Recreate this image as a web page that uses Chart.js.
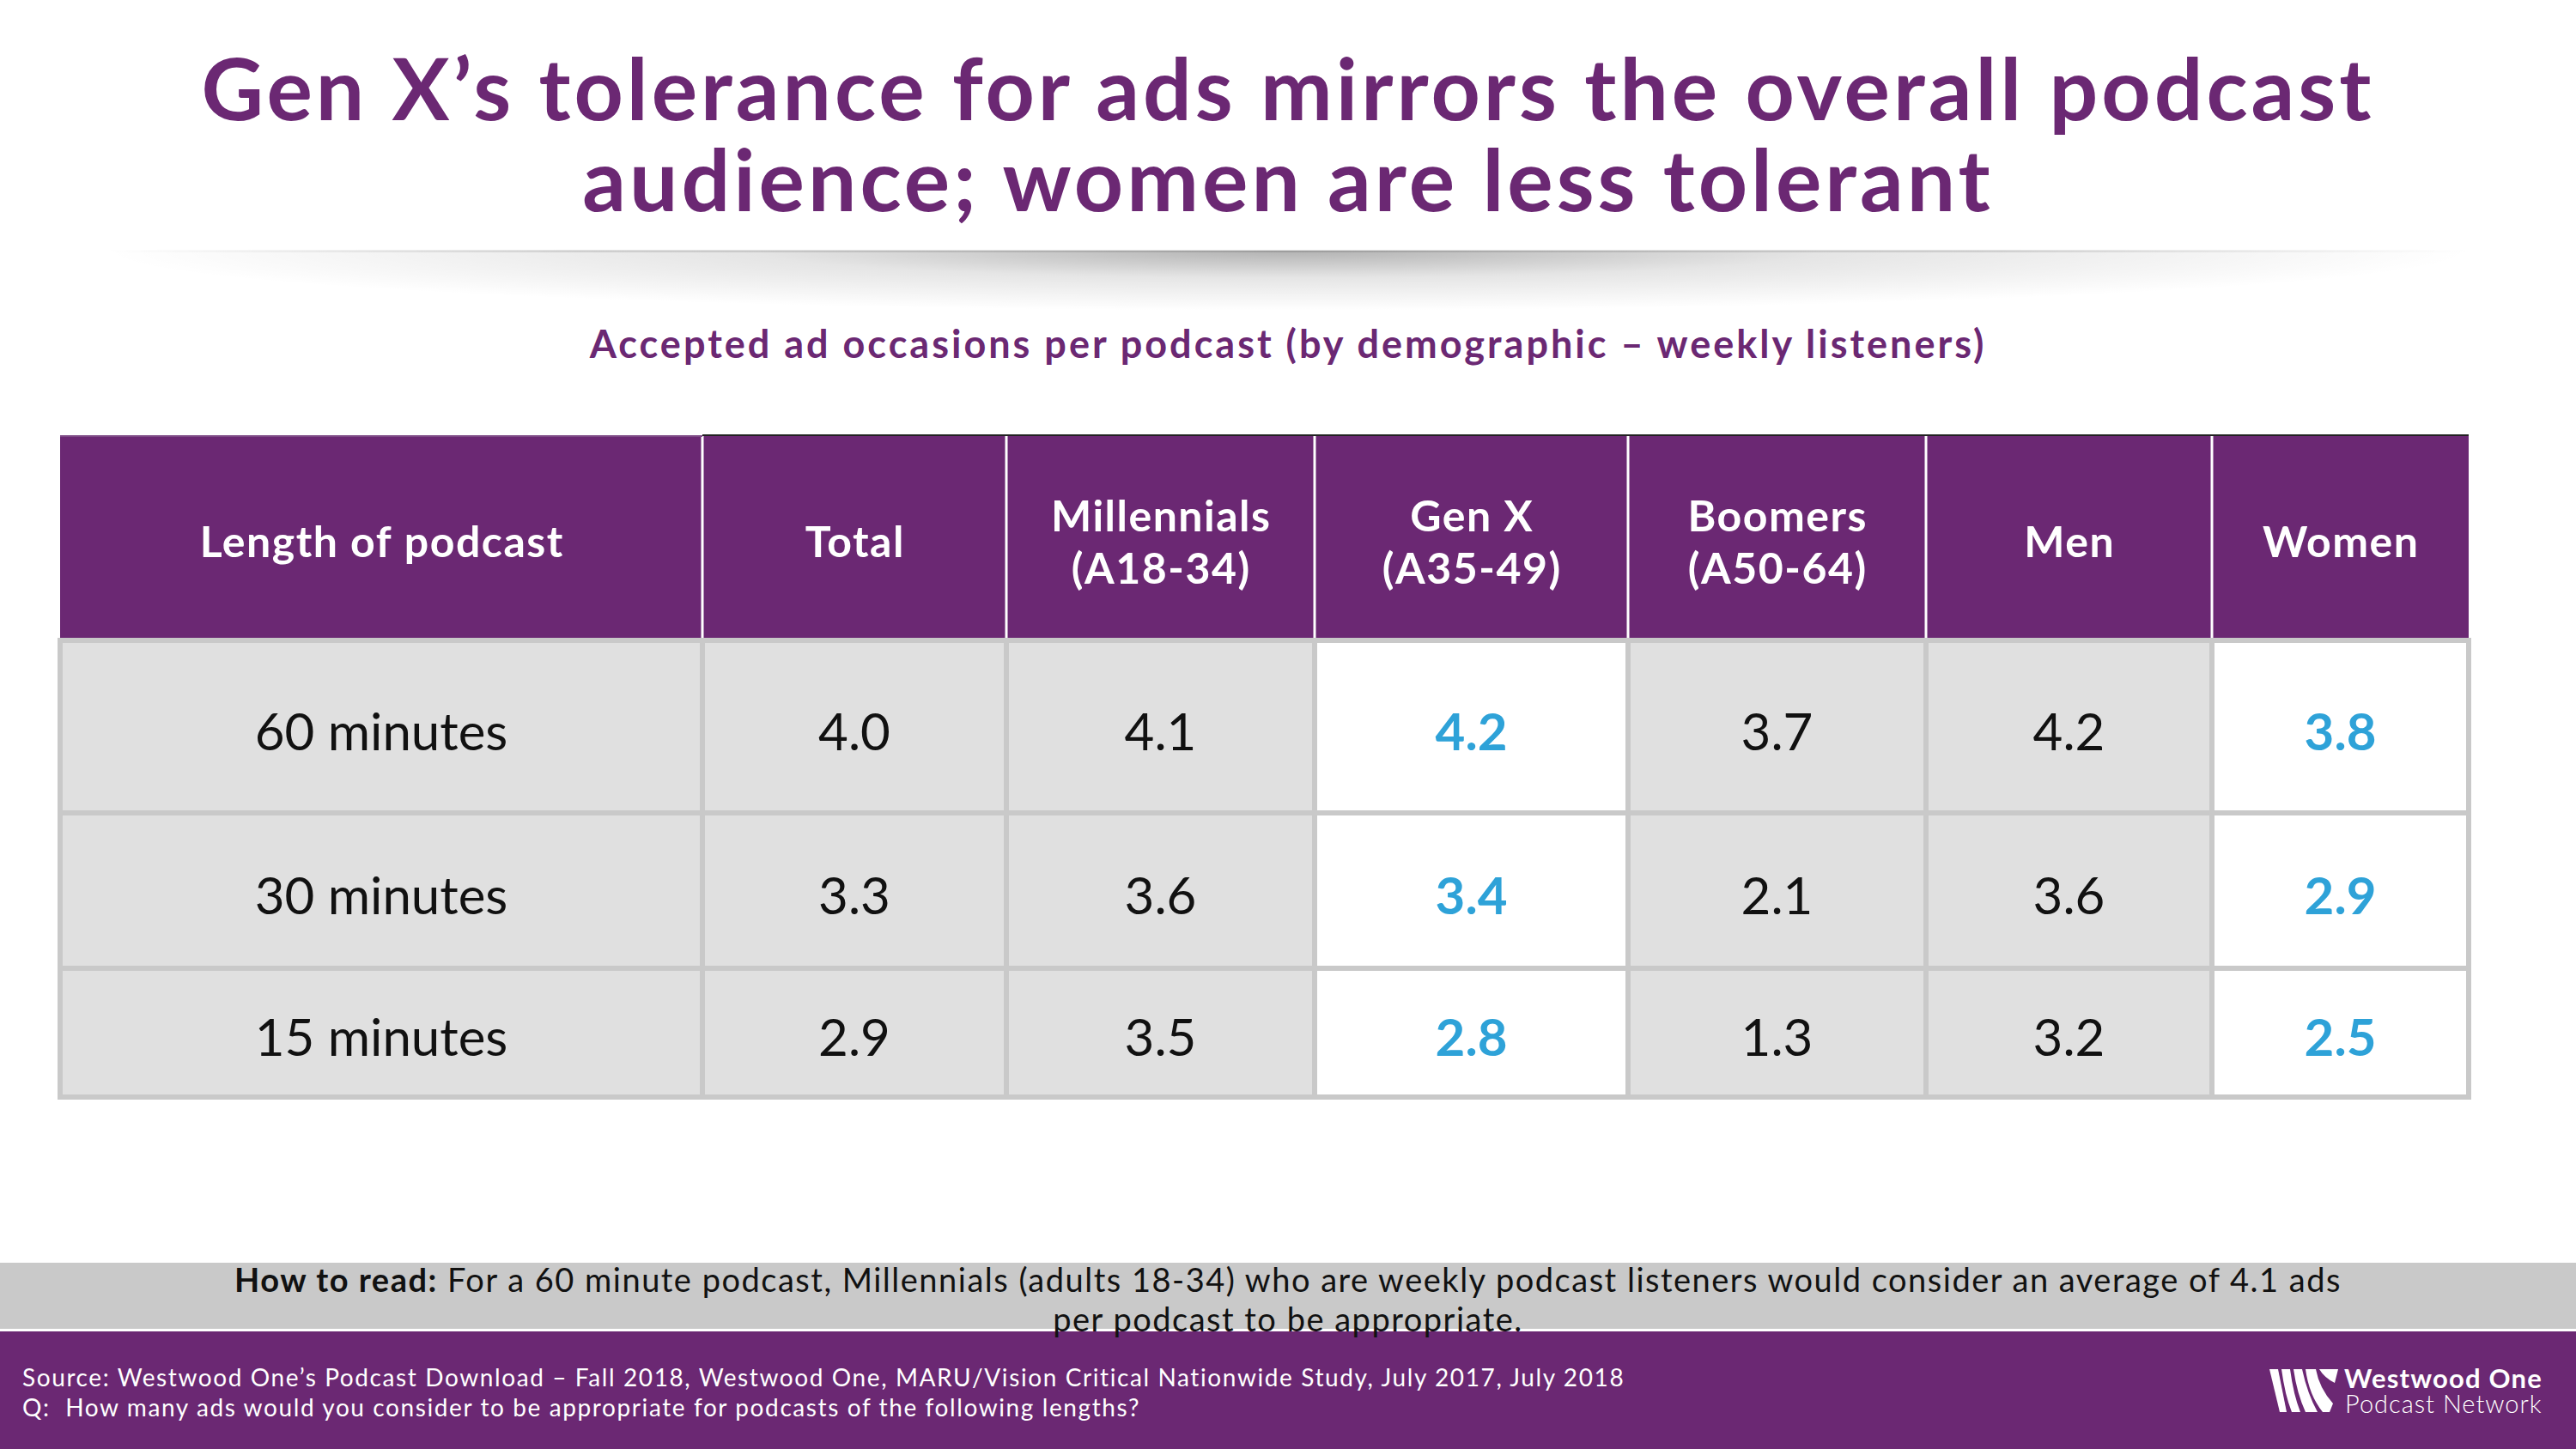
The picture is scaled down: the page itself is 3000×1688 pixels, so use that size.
<!DOCTYPE html>
<html><head><meta charset="utf-8">
<script src="https://cdn.jsdelivr.net/npm/chart.js@4"></script>
<style>
html,body{margin:0;padding:0;background:#fff;}
body{width:3000px;height:1688px;position:relative;overflow:hidden;font-family:Lato,"Open Sans",sans-serif;}
#title{position:absolute;left:0;top:48px;width:3000px;text-align:center;color:#6b2873;font-weight:700;font-size:100px;line-height:106px;letter-spacing:4px;}
#shadow{position:absolute;left:120px;top:292px;width:2760px;height:70px;background:radial-gradient(ellipse 50% 100% at 50% 0%, rgba(0,0,0,0.30), rgba(0,0,0,0.10) 45%, rgba(0,0,0,0) 100%);}
#shadowline{position:absolute;left:120px;top:291px;width:2760px;height:3px;background:linear-gradient(to right, rgba(0,0,0,0), rgba(0,0,0,0.12) 20%, rgba(0,0,0,0.12) 80%, rgba(0,0,0,0));}
#subtitle{position:absolute;left:0;top:374px;width:3000px;text-align:center;color:#6b2873;font-weight:700;font-size:45px;line-height:52px;letter-spacing:3px;}
#wrap{position:absolute;left:60px;top:498px;width:2825px;height:790px;}
#howband{position:absolute;left:0;top:1471px;width:3000px;height:77px;background:#c9c9c9;}
#howtxt{position:absolute;left:0;top:1467px;width:3000px;text-align:center;font-size:38px;line-height:46px;color:#111;letter-spacing:1.5px;}
#foot{position:absolute;left:0;top:1551px;width:3000px;height:137px;background:#6b2873;}
#src{position:absolute;left:26px;top:1587px;color:#fff;font-size:28px;line-height:35px;font-weight:400;letter-spacing:1.6px;}
#logo{position:absolute;left:2643px;top:1595px;width:80px;height:50px;}
#lt1{position:absolute;left:2730px;top:1589px;color:#fff;font-size:31px;font-weight:700;line-height:32px;letter-spacing:1.2px;}
#lt2{position:absolute;left:2731px;top:1620px;color:#fff;font-size:29px;font-weight:300;line-height:30px;letter-spacing:1px;}
</style></head>
<body>
<div id="title">Gen X’s tolerance for ads mirrors the overall podcast<br>audience; women are less tolerant</div>
<div id="shadow"></div><div id="shadowline"></div>
<div id="subtitle">Accepted ad occasions per podcast (by demographic – weekly listeners)</div>
<div id="wrap"><canvas id="c"></canvas></div>
<div id="howband"></div>
<div id="foot"></div>
<div id="howtxt"><b>How to read:</b> For a 60 minute podcast, Millennials (adults 18-34) who are weekly podcast listeners would consider an average of 4.1 ads<br>per podcast to be appropriate.</div>
<div id="src">Source: Westwood One’s Podcast Download – Fall 2018, Westwood One, MARU/Vision Critical Nationwide Study, July 2017, July 2018<br>Q:&nbsp; How many ads would you consider to be appropriate for podcasts of the following lengths?</div>
<svg id="logo" viewBox="0 0 80 50">
<path d="M0 0 H10 L20 50 H12 Z" fill="#fff"/>
<path d="M14 0 H24 Q28 30 36 50 H26 Q18 30 14 0 Z" fill="#fff"/>
<path d="M28 0 H38 Q44 28 56 50 H42 Q32 28 28 0 Z" fill="#fff"/>
<path d="M42 0 H54 Q58 22 74 40 L70 50 H62 Q46 30 42 0 Z" fill="#fff"/>
<path d="M58 0 H80 L76 16 Q64 10 58 0 Z" fill="#fff"/>
</svg>
<div id="lt1">Westwood One</div>
<div id="lt2">Podcast Network</div>
<script>
// ---- data ----
const headerLabels = [["Length of podcast"],["Total"],["Millennials","(A18-34)"],["Gen X","(A35-49)"],["Boomers","(A50-64)"],["Men"],["Women"]];
const rowLabels = ["60 minutes","30 minutes","15 minutes"];
const totalVals = [4.0, 3.3, 2.9];
const millennialsVals = [4.1, 3.6, 3.5];
const genXVals = [4.2, 3.4, 2.8];
const boomersVals = [3.7, 2.1, 1.3];
const menVals = [4.2, 3.6, 3.2];
const womenVals = [3.8, 2.9, 2.5];
const seriesVals = [totalVals, millennialsVals, genXVals, boomersVals, menVals, womenVals];
const highlighted = [false, false, true, false, false, true];

// ---- layout (table geometry in scale units) ----
const colWidths = [748, 354, 359, 365, 347, 333, 299];
const rowHeights = [238, 201, 181, 150];
const xEdges = [0]; colWidths.forEach(w => xEdges.push(xEdges[xEdges.length-1] + w));
const yEdges = [0]; rowHeights.forEach(h => yEdges.push(yEdges[yEdges.length-1] + h));
const colCenter = c => (xEdges[c] + xEdges[c+1]) / 2;
const rowCenter = r => (yEdges[r] + yEdges[r+1]) / 2;

const PURPLE = '#6b2873', BLUE = '#2ea2d8', GRID = '#c9c9c9', CELL = '#e0e0e0';
const FONT = 'Lato, "Open Sans", sans-serif';

const datasets = seriesVals.map((vals, i) => ({
  label: headerLabels[i+1].join(' '),
  data: vals.map((v, r) => ({x: colCenter(i+1), y: rowCenter(r+1), v: v})),
  pointRadius: 0, pointHoverRadius: 0, showLine: false
}));

function spacedText(ctx, t, cx, cy, sp) {
  if ('letterSpacing' in ctx) {
    ctx.letterSpacing = sp + 'px';
    ctx.fillText(t, cx + sp / 2, cy);
    ctx.letterSpacing = '0px';
  } else {
    ctx.fillText(t, cx, cy);
  }
}

const tablePlugin = {
  id: 'tableCells',
  beforeDatasetsDraw(chart) {
    const {ctx, scales: {x, y}} = chart;
    const px = v => x.getPixelForValue(v), py = v => y.getPixelForValue(v);
    ctx.save();
    ctx.fillStyle = PURPLE;
    ctx.fillRect(px(xEdges[0]), py(yEdges[0]), px(xEdges[xEdges.length-1]) - px(xEdges[0]), py(yEdges[1]) - py(yEdges[0]));
    for (let r = 1; r < rowHeights.length; r++) {
      for (let c = 0; c < colWidths.length; c++) {
        ctx.fillStyle = (c > 0 && highlighted[c-1]) ? '#ffffff' : CELL;
        ctx.fillRect(px(xEdges[c]), py(yEdges[r]), px(xEdges[c+1]) - px(xEdges[c]), py(yEdges[r+1]) - py(yEdges[r]));
      }
    }
    ctx.strokeStyle = '#ffffff'; ctx.lineWidth = 3;
    for (let c = 1; c < colWidths.length; c++) {
      ctx.beginPath(); ctx.moveTo(px(xEdges[c]), py(yEdges[0])); ctx.lineTo(px(xEdges[c]), py(yEdges[1])); ctx.stroke();
    }
    ctx.strokeStyle = '#222'; ctx.lineWidth = 2;
    ctx.beginPath(); ctx.moveTo(px(xEdges[1]), py(yEdges[0]) - 1); ctx.lineTo(px(xEdges[xEdges.length-1]), py(yEdges[0]) - 1); ctx.stroke();
    ctx.strokeStyle = '#7d4a85'; ctx.lineWidth = 2;
    ctx.beginPath(); ctx.moveTo(px(xEdges[0]), py(yEdges[0])); ctx.lineTo(px(xEdges[1]), py(yEdges[0])); ctx.stroke();
    ctx.strokeStyle = GRID; ctx.lineWidth = 6;
    for (let r = 1; r <= rowHeights.length; r++) {
      ctx.beginPath(); ctx.moveTo(px(xEdges[0]) - 3, py(yEdges[r])); ctx.lineTo(px(xEdges[xEdges.length-1]) + 3, py(yEdges[r])); ctx.stroke();
    }
    for (let c = 0; c <= colWidths.length; c++) {
      ctx.beginPath(); ctx.moveTo(px(xEdges[c]), py(yEdges[1])); ctx.lineTo(px(xEdges[c]), py(yEdges[rowHeights.length]) + 3); ctx.stroke();
    }
    ctx.restore();
  },
  afterDatasetsDraw(chart) {
    const {ctx, scales: {x, y}} = chart;
    ctx.save();
    ctx.textAlign = 'center'; ctx.textBaseline = 'middle';
    ctx.fillStyle = '#ffffff'; ctx.font = '700 50px ' + FONT;
    headerLabels.forEach((lines, c) => {
      const cx = x.getPixelForValue(colCenter(c)), cy = y.getPixelForValue(rowCenter(0));
      const lh = 61;
      lines.forEach((t, i) => spacedText(ctx, t, cx, cy + (i - (lines.length-1)/2) * lh + 6, 1.5));
    });
    ctx.fillStyle = '#111'; ctx.font = '400 60px ' + FONT;
    rowLabels.forEach((t, r) => ctx.fillText(t, x.getPixelForValue(colCenter(0)), y.getPixelForValue(rowCenter(r+1)) + 8));
    chart.data.datasets.forEach((ds, i) => {
      const meta = chart.getDatasetMeta(i);
      ctx.fillStyle = highlighted[i] ? BLUE : '#111';
      ctx.font = (highlighted[i] ? '700 ' : '400 ') + '60px ' + FONT;
      meta.data.forEach((pt, j) => ctx.fillText(ds.data[j].v.toFixed(1), pt.x, pt.y + 8));
    });
    ctx.restore();
  }
};

new Chart(document.getElementById('c'), {
  type: 'scatter',
  data: { datasets },
  options: {
    responsive: true, maintainAspectRatio: false, animation: false,
    layout: { padding: 10 },
    events: [],
    plugins: { legend: { display: false }, tooltip: { enabled: false } },
    scales: {
      x: { type: 'linear', display: false, min: 0, max: xEdges[xEdges.length-1] },
      y: { type: 'linear', display: false, min: 0, max: yEdges[yEdges.length-1], reverse: true }
    }
  },
  plugins: [tablePlugin]
});
</script>
</body></html>
